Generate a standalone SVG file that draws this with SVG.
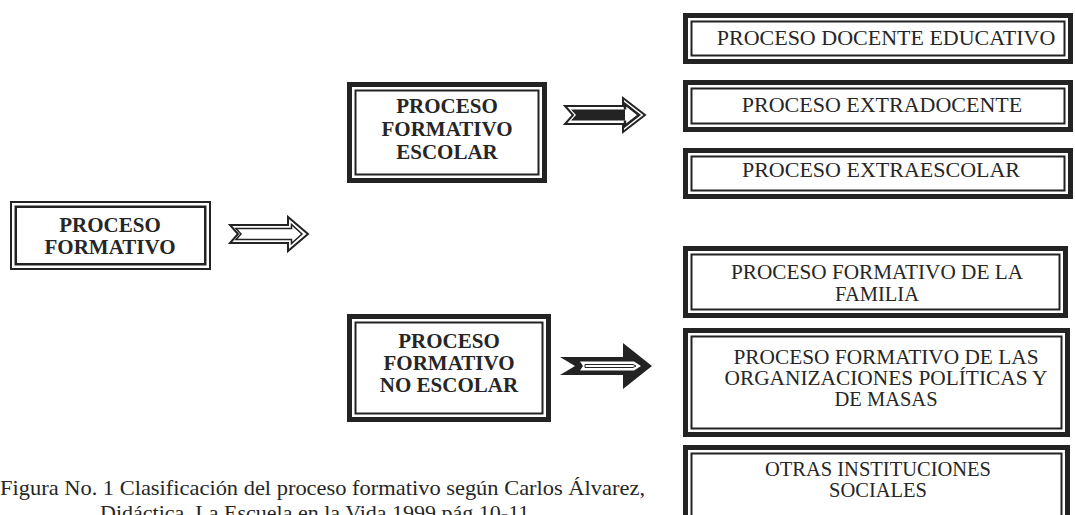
<svg xmlns="http://www.w3.org/2000/svg" width="1075" height="515" viewBox="0 0 1075 515">
<style>
.thick{fill:none;stroke:#232323;stroke-width:5}
.thin{fill:none;stroke:#232323;stroke-width:2}
.b{font-family:"Liberation Serif","Times New Roman",serif;font-weight:bold;font-size:21px;fill:#262626;text-anchor:middle}
.r{font-family:"Liberation Serif","Times New Roman",serif;font-size:22px;fill:#262626;text-anchor:middle}
.m{font-family:"Liberation Serif","Times New Roman",serif;font-size:20.5px;fill:#262626;text-anchor:middle}
.cap{font-family:"Liberation Serif","Times New Roman",serif;font-size:22px;fill:#262626}
.ao{fill:#fff;stroke:#232323;stroke-width:2;stroke-linejoin:miter}
.dk{fill:#232323}
</style>
<rect width="1075" height="515" fill="#fff"/>
<g id="proceso-formativo">
<rect x="11" y="202" width="199" height="67" fill="none" stroke="#232323" stroke-width="2"/>
<rect x="15.75" y="206.75" width="189.5" height="57.5" fill="none" stroke="#232323" stroke-width="2.5"/>
<text class="b" x="110" y="232">PROCESO</text>
<text class="b" x="110" y="254">FORMATIVO</text>
</g>
<g id="formativo-escolar">
<rect class="thick" x="349.5" y="84.5" width="195" height="96"/>
<rect class="thin" x="355.5" y="90.5" width="183" height="84"/>
<text class="b" x="447" y="113">PROCESO</text>
<text class="b" x="447" y="136">FORMATIVO</text>
<text class="b" x="447" y="159">ESCOLAR</text>
</g>
<g id="formativo-no-escolar">
<rect class="thick" x="349.5" y="316.5" width="199" height="103"/>
<rect class="thin" x="355.5" y="322.5" width="187" height="91"/>
<text class="b" x="449" y="348">PROCESO</text>
<text class="b" x="449" y="370">FORMATIVO</text>
<text class="b" x="449" y="392">NO ESCOLAR</text>
</g>
<g id="docente-educativo">
<rect class="thick" x="685.5" y="15.5" width="385" height="46"/>
<rect class="thin" x="691.5" y="21.5" width="373" height="34"/>
<text class="r" x="886" y="45">PROCESO DOCENTE EDUCATIVO</text>
</g>
<g id="extradocente">
<rect class="thick" x="685.5" y="82.5" width="385" height="47"/>
<rect class="thin" x="691.5" y="88.5" width="373" height="35"/>
<text class="r" x="882" y="112">PROCESO EXTRADOCENTE</text>
</g>
<g id="extraescolar">
<rect class="thick" x="685.5" y="150.5" width="385" height="46"/>
<rect class="thin" x="691.5" y="156.5" width="373" height="34"/>
<text class="r" x="881" y="177">PROCESO EXTRAESCOLAR</text>
</g>
<g id="familia">
<rect class="thick" x="685.5" y="248.5" width="380" height="67"/>
<rect class="thin" x="691.5" y="254.5" width="368" height="55"/>
<text class="m" x="877" y="279" textLength="292" lengthAdjust="spacingAndGlyphs">PROCESO FORMATIVO DE LA</text>
<text class="m" x="877" y="301">FAMILIA</text>
</g>
<g id="organizaciones">
<rect class="thick" x="685.5" y="330.5" width="382" height="104"/>
<rect class="thin" x="691.5" y="336.5" width="370" height="92"/>
<text class="m" x="886" y="364" textLength="305" lengthAdjust="spacingAndGlyphs">PROCESO FORMATIVO DE LAS</text>
<text class="m" x="886" y="385" textLength="323" lengthAdjust="spacingAndGlyphs">ORGANIZACIONES POLÍTICAS Y</text>
<text class="m" x="886" y="406">DE MASAS</text>
</g>
<g id="otras-instituciones">
<rect class="thick" x="685.5" y="447.5" width="382" height="90"/>
<rect class="thin" x="691.5" y="453.5" width="370" height="78"/>
<text class="m" x="878" y="476">OTRAS INSTITUCIONES</text>
<text class="m" x="878" y="497">SOCIALES</text>
</g>
<g id="connectors">
<g id="arrow-1">
<path class="ao" d="M230,225 L288,225 L288,217 L308,234 L288,251 L288,243 L230,243 L238,234 Z"/>
<path d="M236,228.5 L291.5,228.5 L291.5,224.5 L302,234 L291.5,243.5 L291.5,239.5 L236,239.5 L241,234 Z" fill="none" stroke="#232323" stroke-width="1.5"/>
</g>
<g id="arrow-2">
<path class="ao" d="M565,106 L623,106 L623,98 L645,115 L623,132 L623,124 L565,124 L573,115 Z"/>
<path class="dk" d="M571,109.5 L625,109.5 L625,120.5 L571,120.5 L576,115 Z"/>
<path d="M625,109.5 L625,104 L639,115 L625,126 L625,120.5" fill="none" stroke="#232323" stroke-width="2.5"/>
</g>
<g id="arrow-3">
<path class="dk" d="M560,357 L623,357 L623,343 L652,366 L623,389 L623,375 L560,375 L575,366 Z"/>
<path d="M580,361.5 L634,361.5 L641,366 L634,370.5 L580,370.5 L583,366 Z" fill="#fff"/>
<path d="M585,364.5 L633,364.5 L636,366 L633,367.5 L585,367.5 Z" fill="#fff" stroke="#232323" stroke-width="1"/>
</g>
</g>
<g id="caption">
<text class="cap" x="0" y="495" textLength="645" lengthAdjust="spacingAndGlyphs">Figura No. 1 Clasificación del proceso formativo según Carlos Álvarez,</text>
<text class="cap" x="100" y="520">Didáctica. La Escuela en la Vida 1999 pág 10-11</text>
</g>
</svg>
